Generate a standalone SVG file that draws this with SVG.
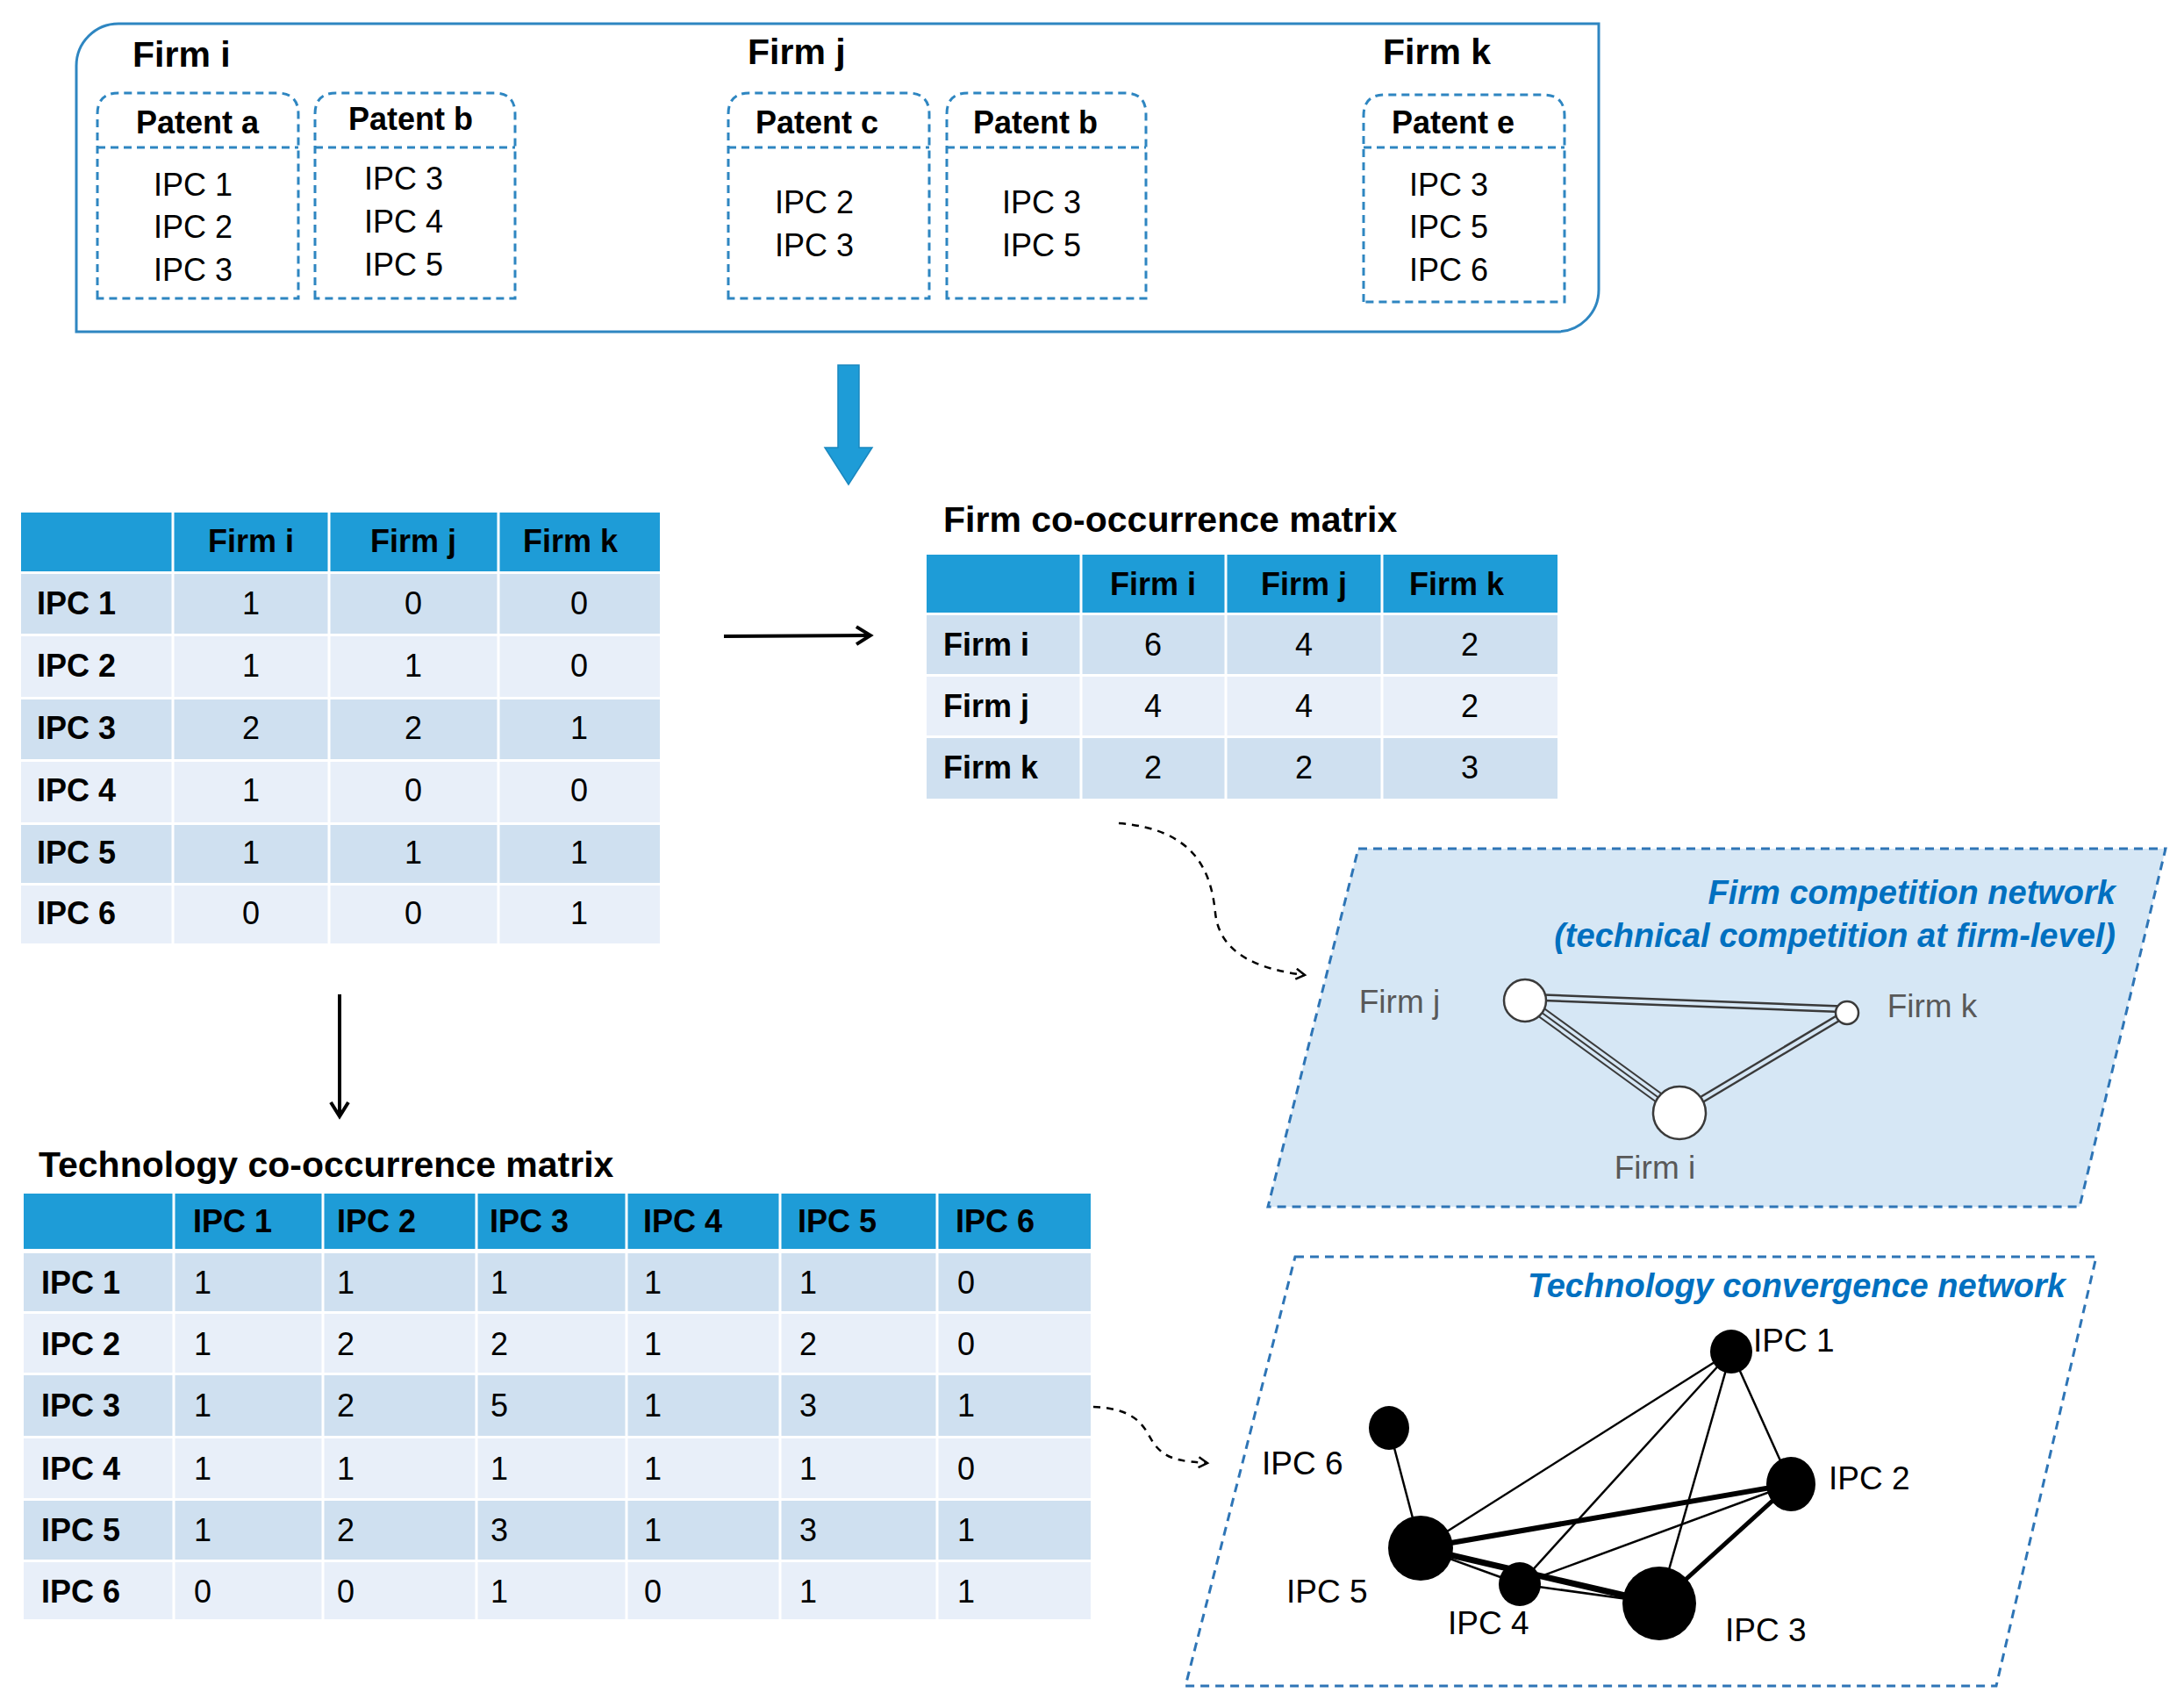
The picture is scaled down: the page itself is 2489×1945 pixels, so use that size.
<svg xmlns="http://www.w3.org/2000/svg" width="2489" height="1945" viewBox="0 0 2489 1945">
<style>
text{font-family:"Liberation Sans",Arial,sans-serif;fill:#000}
.h{font-size:41px;font-weight:bold}
.pt{font-size:36px;font-weight:bold}
.ipc{font-size:36px}
.th{font-size:36px;font-weight:bold}
.td{font-size:36px}
.hd{fill:#1e9cd7}
.r1{fill:#cfe0f0}
.r2{fill:#e8eff9}
.pb{fill:none;stroke:#2e86c1;stroke-width:3;stroke-dasharray:9 6}
.nt{font-size:38px;font-weight:bold;font-style:italic;fill:#0070c0}
.gl{font-size:37px;fill:#595959}
.bl{font-size:37px}
.cu{fill:none;stroke:#000;stroke-width:2.5;stroke-dasharray:8 7}
</style>
<defs>
<marker id="op" markerWidth="14" markerHeight="14" refX="11" refY="7" orient="auto" markerUnits="userSpaceOnUse"><path d="M1,1 L11,7 L1,13" fill="none" stroke="#000" stroke-width="2.5"/></marker>
<marker id="bk" markerWidth="24" markerHeight="24" refX="20" refY="12" orient="auto" markerUnits="userSpaceOnUse"><path d="M4,2 L20,12 L4,22" fill="none" stroke="#000" stroke-width="4"/></marker>
</defs>

<g id="firms">
<path d="M135,27 H1822 V330 A48,48 0 0 1 1774,378 H87 V75 A48,48 0 0 1 135,27 Z" fill="#fff" stroke="#2e86c1" stroke-width="3"/>
<text class="h" x="151" y="76">Firm i</text>
<text class="h" x="852" y="73">Firm j</text>
<text class="h" x="1576" y="73">Firm k</text>
</g>

<g id="patent-a">
<path class="pb" d="M111,340 V130 Q111,106 135,106 H316 Q340,106 340,130 V340 Z M111,168 H340"/>
<text class="pt" x="225" y="152" text-anchor="middle">Patent a</text>
<text class="ipc" x="220" y="223" text-anchor="middle">IPC 1</text>
<text class="ipc" x="220" y="271" text-anchor="middle">IPC 2</text>
<text class="ipc" x="220" y="320" text-anchor="middle">IPC 3</text>
</g>
<g id="patent-b1">
<path class="pb" d="M359,340 V130 Q359,106 383,106 H563 Q587,106 587,130 V340 Z M359,168 H587"/>
<text class="pt" x="468" y="148" text-anchor="middle">Patent b</text>
<text class="ipc" x="460" y="216" text-anchor="middle">IPC 3</text>
<text class="ipc" x="460" y="265" text-anchor="middle">IPC 4</text>
<text class="ipc" x="460" y="314" text-anchor="middle">IPC 5</text>
</g>
<g id="patent-c">
<path class="pb" d="M830,340 V130 Q830,106 854,106 H1035 Q1059,106 1059,130 V340 Z M830,168 H1059"/>
<text class="pt" x="931" y="152" text-anchor="middle">Patent c</text>
<text class="ipc" x="928" y="243" text-anchor="middle">IPC 2</text>
<text class="ipc" x="928" y="292" text-anchor="middle">IPC 3</text>
</g>
<g id="patent-b2">
<path class="pb" d="M1079,340 V130 Q1079,106 1103,106 H1282 Q1306,106 1306,130 V340 Z M1079,168 H1306"/>
<text class="pt" x="1180" y="152" text-anchor="middle">Patent b</text>
<text class="ipc" x="1187" y="243" text-anchor="middle">IPC 3</text>
<text class="ipc" x="1187" y="292" text-anchor="middle">IPC 5</text>
</g>
<g id="patent-e">
<path class="pb" d="M1554,344 V132 Q1554,108 1578,108 H1759 Q1783,108 1783,132 V344 Z M1554,168 H1783"/>
<text class="pt" x="1656" y="152" text-anchor="middle">Patent e</text>
<text class="ipc" x="1651" y="223" text-anchor="middle">IPC 3</text>
<text class="ipc" x="1651" y="271" text-anchor="middle">IPC 5</text>
<text class="ipc" x="1651" y="320" text-anchor="middle">IPC 6</text>
</g>

<g id="ipc-firm-table">
<rect class="hd" x="24" y="584" width="728" height="67"/>
<rect class="r1" x="24" y="654" width="728" height="68"/>
<rect class="r2" x="24" y="725" width="728" height="69"/>
<rect class="r1" x="24" y="797" width="728" height="68"/>
<rect class="r2" x="24" y="868" width="728" height="69"/>
<rect class="r1" x="24" y="940" width="728" height="66"/>
<rect class="r2" x="24" y="1009" width="728" height="66"/>
<g stroke="#fff" stroke-width="3"><line x1="197" y1="584" x2="197" y2="1075"/><line x1="375" y1="584" x2="375" y2="1075"/><line x1="568" y1="584" x2="568" y2="1075"/></g>
<g class="th" text-anchor="middle"><text x="286" y="629">Firm i</text><text x="471" y="629">Firm j</text><text x="650" y="629">Firm k</text></g>
<g class="th"><text x="42" y="700">IPC 1</text><text x="42" y="771">IPC 2</text><text x="42" y="842">IPC 3</text><text x="42" y="913">IPC 4</text><text x="42" y="984">IPC 5</text><text x="42" y="1053">IPC 6</text></g>
<g class="td" text-anchor="middle">
<text x="286" y="700">1</text><text x="471" y="700">0</text><text x="660" y="700">0</text>
<text x="286" y="771">1</text><text x="471" y="771">1</text><text x="660" y="771">0</text>
<text x="286" y="842">2</text><text x="471" y="842">2</text><text x="660" y="842">1</text>
<text x="286" y="913">1</text><text x="471" y="913">0</text><text x="660" y="913">0</text>
<text x="286" y="984">1</text><text x="471" y="984">1</text><text x="660" y="984">1</text>
<text x="286" y="1053">0</text><text x="471" y="1053">0</text><text x="660" y="1053">1</text>
</g>
</g>

<g id="firm-matrix">
<text class="h" x="1075" y="606">Firm co-occurrence matrix</text>
<rect class="hd" x="1056" y="632" width="719" height="66"/>
<rect class="r1" x="1056" y="701" width="719" height="67"/>
<rect class="r2" x="1056" y="771" width="719" height="67"/>
<rect class="r1" x="1056" y="841" width="719" height="69"/>
<g stroke="#fff" stroke-width="3"><line x1="1232" y1="632" x2="1232" y2="910"/><line x1="1397" y1="632" x2="1397" y2="910"/><line x1="1575" y1="632" x2="1575" y2="910"/></g>
<g class="th" text-anchor="middle"><text x="1314" y="678">Firm i</text><text x="1486" y="678">Firm j</text><text x="1660" y="678">Firm k</text></g>
<g class="th"><text x="1075" y="747">Firm i</text><text x="1075" y="817">Firm j</text><text x="1075" y="887">Firm k</text></g>
<g class="td" text-anchor="middle">
<text x="1314" y="747">6</text><text x="1486" y="747">4</text><text x="1675" y="747">2</text>
<text x="1314" y="817">4</text><text x="1486" y="817">4</text><text x="1675" y="817">2</text>
<text x="1314" y="887">2</text><text x="1486" y="887">2</text><text x="1675" y="887">3</text>
</g>
</g>

<g id="tech-matrix">
<text class="h" x="44" y="1341">Technology co-occurrence matrix</text>
<rect class="hd" x="27" y="1360" width="1216" height="63"/>
<rect class="r1" x="27" y="1428" width="1216" height="66"/>
<rect class="r2" x="27" y="1497" width="1216" height="67"/>
<rect class="r1" x="27" y="1567" width="1216" height="69"/>
<rect class="r2" x="27" y="1639" width="1216" height="68"/>
<rect class="r1" x="27" y="1710" width="1216" height="67"/>
<rect class="r2" x="27" y="1780" width="1216" height="65"/>
<g stroke="#fff" stroke-width="3"><line x1="198" y1="1360" x2="198" y2="1845"/><line x1="368" y1="1360" x2="368" y2="1845"/><line x1="543" y1="1360" x2="543" y2="1845"/><line x1="714" y1="1360" x2="714" y2="1845"/><line x1="889" y1="1360" x2="889" y2="1845"/><line x1="1068" y1="1360" x2="1068" y2="1845"/></g>
<g class="th"><text x="220" y="1404">IPC 1</text><text x="384" y="1404">IPC 2</text><text x="558" y="1404">IPC 3</text><text x="733" y="1404">IPC 4</text><text x="909" y="1404">IPC 5</text><text x="1089" y="1404">IPC 6</text></g>
<g class="th"><text x="47" y="1474">IPC 1</text><text x="47" y="1544">IPC 2</text><text x="47" y="1614">IPC 3</text><text x="47" y="1686">IPC 4</text><text x="47" y="1756">IPC 5</text><text x="47" y="1826">IPC 6</text></g>
<g class="td">
<text x="221" y="1474">1</text><text x="384" y="1474">1</text><text x="559" y="1474">1</text><text x="734" y="1474">1</text><text x="911" y="1474">1</text><text x="1091" y="1474">0</text>
<text x="221" y="1544">1</text><text x="384" y="1544">2</text><text x="559" y="1544">2</text><text x="734" y="1544">1</text><text x="911" y="1544">2</text><text x="1091" y="1544">0</text>
<text x="221" y="1614">1</text><text x="384" y="1614">2</text><text x="559" y="1614">5</text><text x="734" y="1614">1</text><text x="911" y="1614">3</text><text x="1091" y="1614">1</text>
<text x="221" y="1686">1</text><text x="384" y="1686">1</text><text x="559" y="1686">1</text><text x="734" y="1686">1</text><text x="911" y="1686">1</text><text x="1091" y="1686">0</text>
<text x="221" y="1756">1</text><text x="384" y="1756">2</text><text x="559" y="1756">3</text><text x="734" y="1756">1</text><text x="911" y="1756">3</text><text x="1091" y="1756">1</text>
<text x="221" y="1826">0</text><text x="384" y="1826">0</text><text x="559" y="1826">1</text><text x="734" y="1826">0</text><text x="911" y="1826">1</text><text x="1091" y="1826">1</text>
</g>
</g>

<g id="firm-network">
<polygon points="1548,967 2468,967 2370,1375 1445,1375" fill="#d6e7f5" stroke="#2e75b6" stroke-width="3" stroke-dasharray="10 7"/>
<text class="nt" x="2411" y="1030" text-anchor="end">Firm competition network</text>
<text class="nt" x="2411" y="1079" text-anchor="end">(technical competition at firm-level)</text>
<g stroke="#3a3a3a" fill="none">
<line x1="1738" y1="1136" x2="2105" y2="1150" stroke-width="9"/>
<line x1="1738" y1="1136" x2="2105" y2="1150" stroke="#d6e7f5" stroke-width="4"/>
<line x1="1738" y1="1140" x2="1914" y2="1268" stroke-width="13"/>
<line x1="1738" y1="1140" x2="1914" y2="1268" stroke="#d6e7f5" stroke-width="9" stroke-dasharray="none"/>
<line x1="1738" y1="1140" x2="1914" y2="1268" stroke-width="2"/>
<line x1="2105" y1="1154" x2="1914" y2="1268" stroke-width="9"/>
<line x1="2105" y1="1154" x2="1914" y2="1268" stroke="#d6e7f5" stroke-width="4"/>
</g>
<g fill="#fff" stroke="#3a3a3a" stroke-width="2.5">
<circle cx="1738" cy="1140" r="24"/><circle cx="2105" cy="1154" r="13"/><circle cx="1914" cy="1268" r="30"/>
</g>
<text class="gl" x="1595" y="1154" text-anchor="middle">Firm j</text>
<text class="gl" x="2202" y="1159" text-anchor="middle">Firm k</text>
<text class="gl" x="1886" y="1343" text-anchor="middle">Firm i</text>
</g>

<g id="tech-network">
<polygon points="1476,1432 2389,1432 2275,1921 1351,1921" fill="none" stroke="#2e75b6" stroke-width="3" stroke-dasharray="10 7"/>
<text class="nt" x="2354" y="1478" text-anchor="end">Technology convergence network</text>
<g stroke="#000" stroke-width="2.5">
<line x1="1583" y1="1627" x2="1619" y2="1764"/>
<line x1="1619" y1="1764" x2="1973" y2="1540"/>
<line x1="1732" y1="1805" x2="1973" y2="1540"/>
<line x1="1891" y1="1827" x2="1973" y2="1540"/>
<line x1="2041" y1="1691" x2="1973" y2="1540"/>
<line x1="1732" y1="1805" x2="2041" y2="1691"/>
<line x1="1619" y1="1764" x2="1732" y2="1805"/>
<line x1="1732" y1="1805" x2="1891" y2="1827"/>
<line x1="1619" y1="1764" x2="2041" y2="1691" stroke-width="6"/>
<line x1="1619" y1="1764" x2="1891" y2="1827" stroke-width="7"/>
<line x1="1891" y1="1827" x2="2041" y2="1691" stroke-width="5"/>
</g>
<g fill="#000">
<ellipse cx="1973" cy="1540" rx="24" ry="25"/>
<ellipse cx="1583" cy="1627" rx="23" ry="25"/>
<ellipse cx="2041" cy="1691" rx="28" ry="31"/>
<ellipse cx="1619" cy="1764" rx="37" ry="37"/>
<ellipse cx="1732" cy="1805" rx="24" ry="25"/>
<ellipse cx="1891" cy="1827" rx="42" ry="42"/>
</g>
<g class="bl">
<text x="1998" y="1540">IPC 1</text>
<text x="1438" y="1680">IPC 6</text>
<text x="2084" y="1697">IPC 2</text>
<text x="1466" y="1826">IPC 5</text>
<text x="1650" y="1862">IPC 4</text>
<text x="1966" y="1870">IPC 3</text>
</g>
</g>

<g id="connectors">
<path d="M955,416 V510 H940 L967,552 L994,510 H979 V416 Z" fill="#1e9cd7" stroke="#1a88c0" stroke-width="1.5"/>
<line x1="825" y1="725" x2="992" y2="724" stroke="#000" stroke-width="4" marker-end="url(#bk)"/>
<line x1="387" y1="1133" x2="387" y2="1272" stroke="#000" stroke-width="4" marker-end="url(#bk)"/>
<path class="cu" d="M1275,938 C1360,945 1380,990 1385,1040 C1390,1090 1440,1105 1487,1111" marker-end="url(#op)"/>
<path class="cu" d="M1246,1603 C1300,1605 1305,1630 1315,1645 C1330,1665 1350,1665 1376,1667" marker-end="url(#op)"/>
</g>
</svg>
